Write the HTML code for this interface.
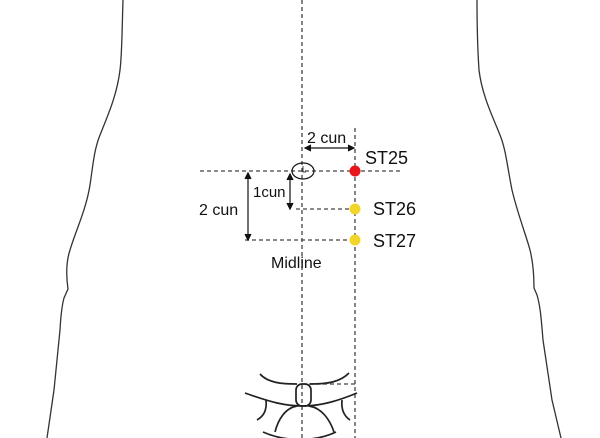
<!DOCTYPE html>
<html><head><style>
body{margin:0;background:#fff}
svg{display:block}
text{font-family:"Liberation Sans",sans-serif;fill:#111}
</style></head><body>
<svg width="600" height="438" viewBox="0 0 600 438" xmlns="http://www.w3.org/2000/svg">
<g fill="none" stroke="#333" stroke-width="1.3">
<path d="M123,0 C122,30 122,55 120,70 C117,95 108,115 100,135 C94,150 93,165 90,185 C86,210 76,230 70,250 C66,262 66,275 68,289 L64,298 C62,305 61,312 60,330 L54,390 L47,438"/>
<path d="M477,0 C477,30 478,55 479,70 C482,95 492,115 500,135 C506,150 507,165 512,190 C518,215 526,235 530,250 C533,262 534,275 534,288 L537,295 C540,305 541,315 543,340 L552,400 L561,438"/>
</g>
<g fill="none" stroke="#444" stroke-width="1.3" stroke-dasharray="4,3">
<line x1="302" y1="0" x2="302" y2="438"/>
<line x1="355" y1="128" x2="355" y2="438"/>
<line x1="200" y1="171" x2="402" y2="171"/>
<line x1="296" y1="209" x2="355" y2="209"/>
<line x1="245" y1="240" x2="355" y2="240"/>
<line x1="302" y1="384" x2="355" y2="384"/>
</g>
<g stroke="#111" stroke-width="1.2" fill="none">
<ellipse cx="303" cy="171" rx="11" ry="8"/>
<path d="M303,166 V172 H306" stroke-width="0.8"/>
<line x1="306" y1="148" x2="353" y2="148"/>
<path d="M311,145 L305,148 L311,151" fill="#111"/>
<path d="M348,145 L354,148 L348,151" fill="#111"/>
<line x1="248" y1="174" x2="248" y2="239"/>
<path d="M245,179 L248,173 L251,179" fill="#111"/>
<path d="M245,234 L248,240 L251,234" fill="#111"/>
<line x1="290" y1="175" x2="290" y2="208"/>
<path d="M287,180 L290,174 L293,180" fill="#111"/>
<path d="M287,203 L290,209 L293,203" fill="#111"/>
</g>
<circle cx="355" cy="171" r="5.5" fill="#e8151b"/>
<circle cx="355" cy="209" r="5.5" fill="#f2d52a"/>
<circle cx="355" cy="240" r="5.5" fill="#f2d52a"/>
<text x="307" y="143" font-size="16">2 cun</text>
<text x="365" y="164" font-size="18">ST25</text>
<text x="373" y="215" font-size="18">ST26</text>
<text x="373" y="247" font-size="18">ST27</text>
<text x="199" y="215" font-size="16">2 cun</text>
<text x="253" y="197" font-size="15">1cun</text>
<text x="271" y="268" font-size="16">Midline</text>
<g fill="none" stroke="#222" stroke-width="1.7">
<path d="M260,374 C268,383 282,384 297,384"/>
<path d="M310,384 C328,384 340,382 349,373"/>
<rect x="296" y="384" width="15" height="22" rx="6"/>
<path d="M245,393 C270,402 285,406 303,406 C322,406 340,400 357,393"/>
<path d="M266,400 C267,410 264,416 257,420"/>
<path d="M342,400 C341,410 344,416 350,420"/>
<path d="M297,406 C285,408 278,420 275,432"/>
<path d="M309,406 C322,408 330,420 334,432"/>
<path d="M263,432 C285,442 315,442 336,432"/>
</g>
</svg>
</body></html>
